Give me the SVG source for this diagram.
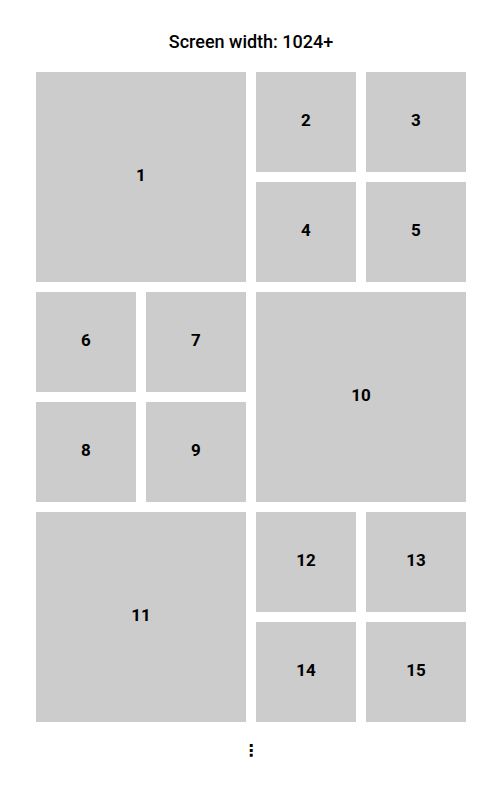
<svg xmlns="http://www.w3.org/2000/svg" width="503" height="785" viewBox="0 0 503 785">
<style>
.c{fill:#cccccc}
.t{font-family:Roboto,"Liberation Sans",sans-serif;font-weight:bold;font-size:17px;fill:#000;text-anchor:middle;dominant-baseline:central}
.h{font-family:Roboto,"Liberation Sans",sans-serif;font-weight:500;font-size:18px;fill:#000;text-anchor:middle}
</style>
<rect width="503" height="785" fill="#fff"/>
<text class="h" x="251" y="48">Screen width: 1024+</text>
<g id="n1"><rect class="c" x="36" y="72" width="210" height="210"/><text class="t" x="141" y="175">1</text></g>
<g id="n2"><rect class="c" x="256" y="72" width="100" height="100"/><text class="t" x="306" y="120">2</text></g>
<g id="n3"><rect class="c" x="366" y="72" width="100" height="100"/><text class="t" x="416" y="120">3</text></g>
<g id="n4"><rect class="c" x="256" y="182" width="100" height="100"/><text class="t" x="306" y="230">4</text></g>
<g id="n5"><rect class="c" x="366" y="182" width="100" height="100"/><text class="t" x="416" y="230">5</text></g>
<g id="n6"><rect class="c" x="36" y="292" width="100" height="100"/><text class="t" x="86" y="340">6</text></g>
<g id="n7"><rect class="c" x="146" y="292" width="100" height="100"/><text class="t" x="196" y="340">7</text></g>
<g id="n8"><rect class="c" x="36" y="402" width="100" height="100"/><text class="t" x="86" y="450">8</text></g>
<g id="n9"><rect class="c" x="146" y="402" width="100" height="100"/><text class="t" x="196" y="450">9</text></g>
<g id="n10"><rect class="c" x="256" y="292" width="210" height="210"/><text class="t" x="361" y="395">10</text></g>
<g id="n11"><rect class="c" x="36" y="512" width="210" height="210"/><text class="t" x="141" y="615">11</text></g>
<g id="n12"><rect class="c" x="256" y="512" width="100" height="100"/><text class="t" x="306" y="560">12</text></g>
<g id="n13"><rect class="c" x="366" y="512" width="100" height="100"/><text class="t" x="416" y="560">13</text></g>
<g id="n14"><rect class="c" x="256" y="622" width="100" height="100"/><text class="t" x="306" y="670">14</text></g>
<g id="n15"><rect class="c" x="366" y="622" width="100" height="100"/><text class="t" x="416" y="670">15</text></g>
<g id="connectors"></g>
<text x="251" y="756" font-family="'DejaVu Sans',sans-serif" font-weight="bold" font-size="16" text-anchor="middle" fill="#000">⋮</text>
</svg>
